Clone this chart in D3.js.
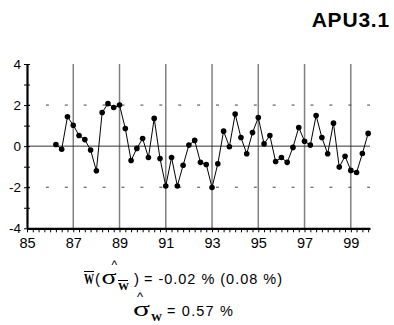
<!DOCTYPE html>
<html><head><meta charset="utf-8">
<script src="https://cdn.jsdelivr.net/npm/d3@7"></script>
<style>body{margin:0;background:#fff;} svg{display:block;}</style>
</head><body>
<script>
const quarters = [86.25,86.5,86.75,87,87.25,87.5,87.75,88,88.25,88.5,88.75,89,89.25,89.5,89.75,90,90.25,90.5,90.75,91,91.25,91.5,91.75,92,92.25,92.5,92.75,93,93.25,93.5,93.75,94,94.25,94.5,94.75,95,95.25,95.5,95.75,96,96.25,96.5,96.75,97,97.25,97.5,97.75,98,98.25,98.5,98.75,99,99.25,99.5,99.75];
const values = [0.08,-0.15,1.43,1.02,0.52,0.32,-0.19,-1.20,1.64,2.07,1.88,2.00,0.86,-0.70,-0.11,0.37,-0.55,1.35,-0.60,-1.94,-0.55,-1.94,-0.93,0.05,0.28,-0.79,-0.89,-2.01,-0.86,0.73,-0.03,1.56,0.42,-0.37,0.66,1.39,0.11,0.52,-0.75,-0.55,-0.79,-0.06,0.91,0.24,0.05,1.49,0.42,-0.37,1.12,-1.02,-0.49,-1.18,-1.28,-0.36,0.62];
const xTickYears = [85,87,89,91,93,95,97,99];
const xTickLabels = ["85","87","89","91","93","95","97","99"];
const gridYears = [87,89,91,93,95,97,99];
const yTickValues = [-4,-2,0,2,4];
const yTickLabels = ["-4","-2","0","2","4"];
const dashedLevels = [2,-2];
const title = "APU3.1";
const meanText = "= -0.02 % (0.08 %)";
const sdText = "= 0.57 %";

const W = 394, H = 325;
const svg = d3.select("body").append("svg").attr("width", W).attr("height", H);
const x = d3.scaleLinear().domain([85, 99.83]).range([27, 370]);
const y = d3.scaleLinear().domain([-4, 4]).range([228.3, 64]);
const font = "'Liberation Sans', Arial, sans-serif";
const serif = "'Liberation Serif', 'Times New Roman', serif";

// title
svg.append("text").attr("x", 390).attr("y", 27).attr("text-anchor", "end")
  .attr("font-family", font).attr("font-weight", "bold").attr("font-size", 21)
  .attr("letter-spacing", 0.8).text(title);

// vertical grid lines
svg.selectAll(".vg").data(gridYears).enter().append("line")
  .attr("x1", d => x(d)).attr("x2", d => x(d)).attr("y1", y(4)).attr("y2", y(-4))
  .attr("stroke", "#808080").attr("stroke-width", 1.5);

// dashed lines
svg.selectAll(".dl").data(dashedLevels).enter().append("line")
  .attr("x1", x(85)).attr("x2", x(99.83)).attr("y1", d => y(d)).attr("y2", d => y(d))
  .attr("stroke", "#444").attr("stroke-width", 1).attr("stroke-dasharray", "3,15.9");

// zero line
svg.append("line").attr("x1", x(85)).attr("x2", x(99.83)).attr("y1", y(0)).attr("y2", y(0))
  .attr("stroke", "#333").attr("stroke-width", 1);

// series line
const pts = quarters.map((q, i) => [q, values[i]]);
svg.append("path").datum(pts)
  .attr("fill", "none").attr("stroke", "#000").attr("stroke-width", 1)
  .attr("d", d3.line().x(d => x(d[0])).y(d => y(d[1])));
svg.selectAll(".pt").data(pts).enter().append("circle")
  .attr("cx", d => x(d[0])).attr("cy", d => y(d[1])).attr("r", 2.8).attr("fill", "#000");

// y axis
const yMinor = d3.range(-4, 4.01, 1);
const yAxisL = svg.append("g").attr("transform", `translate(${x(85)},0)`)
  .call(d3.axisLeft(y).tickValues(yMinor).tickSizeInner(3).tickSizeOuter(0)
    .tickFormat(d => { const k = yTickValues.indexOf(d); return k >= 0 ? yTickLabels[k] : ""; }));
yAxisL.select(".domain").attr("stroke-width", 2.2);
yAxisL.selectAll("text").attr("font-family", font).attr("font-size", 13.5).attr("fill", "#000").attr("x", -6);
svg.append("g").attr("transform", `translate(${x(85)},0)`)
  .call(d3.axisRight(y).tickValues(yMinor).tickSizeInner(3).tickSizeOuter(0).tickFormat(""))
  .select(".domain").remove();

// x axis
const xMinor = d3.range(85, 99.76, 0.25);
const xAxis = svg.append("g").attr("transform", `translate(0,${y(-4)})`)
  .call(d3.axisBottom(x).tickValues(xMinor).tickSizeInner(4).tickSizeOuter(0)
    .tickFormat(d => { const k = xTickYears.indexOf(d); return k >= 0 ? xTickLabels[k] : ""; }));
xAxis.select(".domain").attr("stroke-width", 2.2);
xAxis.selectAll("text").attr("font-family", font).attr("font-size", 14.5).attr("fill", "#000").attr("y", 9.5);
svg.selectAll(".tick line").attr("stroke", "#000");

// bottom formula text
const g = svg.append("g").attr("font-family", font).attr("fill", "#000");
function t(xp, yp, str, opts) {
  const e = g.append("text").attr("x", xp).attr("y", yp).text(str);
  Object.entries(opts).forEach(([k, v]) => e.attr(k, v));
  return e;
}
function bar(x1, x2, yp) {
  g.append("line").attr("x1", x1).attr("x2", x2).attr("y1", yp).attr("y2", yp).attr("stroke", "#000").attr("stroke-width", 1);
}
// line 1
t(84, 284, "W", {"font-family": serif, "font-weight": "bold", "font-size": 14, "textLength": 10, "lengthAdjust": "spacingAndGlyphs"});
bar(84, 94, 271.5);
t(95, 284, "(", {"font-size": 15});
t(101.5, 284, "σ", {"font-family": serif, "font-size": 22, "textLength": 15, "lengthAdjust": "spacingAndGlyphs"});
t(111.5, 269, "^", {"font-size": 12});
t(118, 290, "W", {"font-family": serif, "font-weight": "bold", "font-size": 10.5, "textLength": 11, "lengthAdjust": "spacingAndGlyphs"});
bar(118, 128, 280.5);
t(134, 284, ")", {"font-size": 15});
t(144, 284, meanText, {"font-size": 14.5, "textLength": 138, "lengthAdjust": "spacing"});
// line 2
t(137, 301, "^", {"font-size": 13});
t(133, 316, "σ", {"font-family": serif, "font-size": 22, "textLength": 17, "lengthAdjust": "spacingAndGlyphs"});
t(151, 321, "W", {"font-family": serif, "font-weight": "bold", "font-size": 10.5, "textLength": 11, "lengthAdjust": "spacingAndGlyphs"});
t(167, 316, sdText, {"font-size": 14.5, "textLength": 66, "lengthAdjust": "spacing"});
</script>
</body></html>
